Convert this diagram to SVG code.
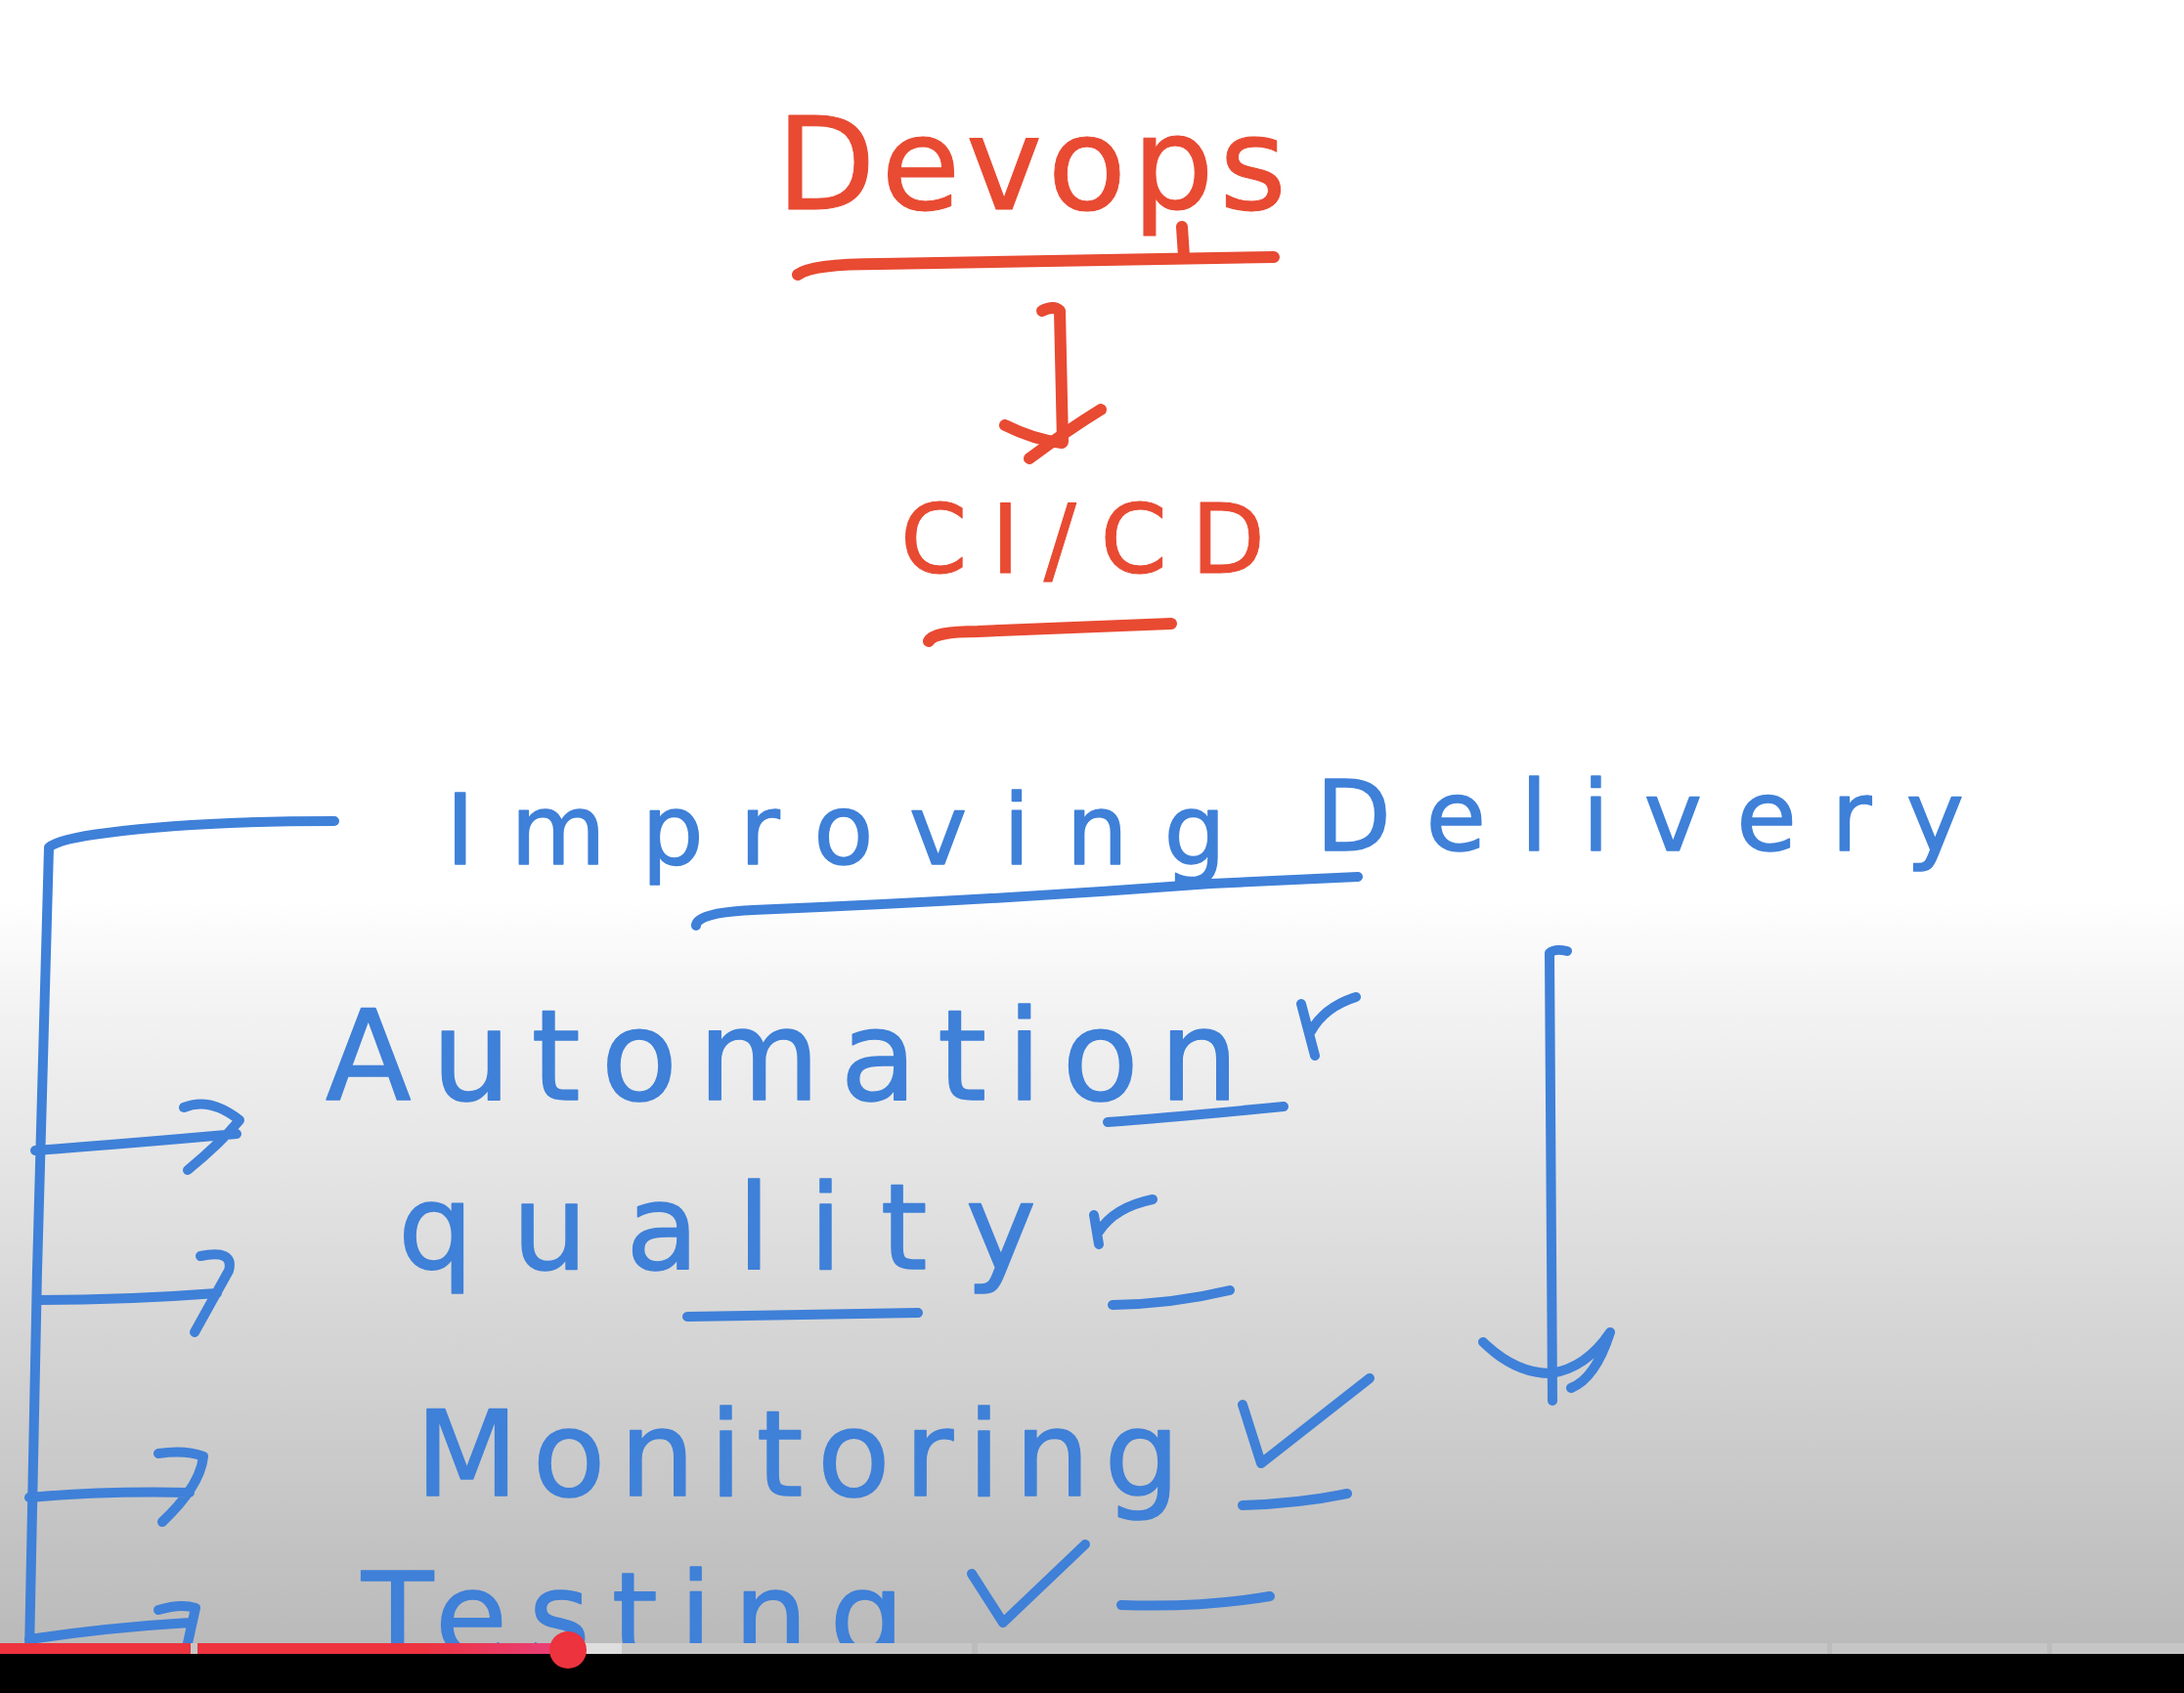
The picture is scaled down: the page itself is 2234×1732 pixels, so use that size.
<svg xmlns="http://www.w3.org/2000/svg" width="2234" height="1732" viewBox="0 0 2234 1732">
<defs>
<linearGradient id="bg" x1="0" y1="0" x2="0" y2="1732" gradientUnits="userSpaceOnUse">
<stop offset="0" stop-color="#ffffff"/>
<stop offset="0.53" stop-color="#ffffff"/>
<stop offset="0.6" stop-color="#f2f2f2"/>
<stop offset="0.78" stop-color="#d6d6d6"/>
<stop offset="0.97" stop-color="#bababa"/>
</linearGradient>
<linearGradient id="prog" x1="0" y1="0" x2="1" y2="0">
<stop offset="0" stop-color="#ec333e"/>
<stop offset="0.6" stop-color="#ec333e"/>
<stop offset="1" stop-color="#e8407c"/>
</linearGradient>
<style>
.red{fill:#e84a32;stroke:#e84a32;stroke-width:1;stroke-linejoin:round;font-family:"DejaVu Sans","Liberation Sans",sans-serif}
.blue{fill:#3f80d8;stroke:#3f80d8;stroke-width:1.5;stroke-linejoin:round;font-family:"DejaVu Sans","Liberation Sans",sans-serif}
.rl{fill:none;stroke:#e84a32;stroke-width:12;stroke-linecap:round;stroke-linejoin:round}
.bl{fill:none;stroke:#3f80d8;stroke-width:10;stroke-linecap:round;stroke-linejoin:round}
</style>
</defs>
<rect x="0" y="0" width="2234" height="1732" fill="url(#bg)"/>

<g id="devops">
<text class="red" x="794" y="214" font-size="132" textLength="522" lengthAdjust="spacing">Devops</text>
<path class="rl" d="M816,281 Q830,270 900,270 L1303,263 M1209,232 L1211,262"/>
</g>

<g id="cicd">
<text class="red" x="921" y="586" font-size="98" textLength="373" lengthAdjust="spacing">CI/CD</text>
<path class="rl" d="M950,656 Q955,646 1000,646 L1198,638"/>
</g>

<g id="improving-delivery">
<text class="blue" y="884" font-size="100"><tspan x="456" textLength="798" lengthAdjust="spacing">Improving</tspan><tspan x="1346" y="870" textLength="663" lengthAdjust="spacing">Delivery</tspan></text>
<path class="bl" d="M712,947 Q712,934 770,931 Q1000,922 1239,904 L1389,897"/>
</g>

<g id="automation">
<text class="blue" x="333" y="1125" font-size="128" textLength="934" lengthAdjust="spacing">Automation</text>
<path class="bl" d="M1133,1148 Q1200,1143 1313,1132"/>
<path class="bl" d="M1331,1027 L1345,1080 M1341,1055 Q1355,1030 1387,1020"/>
</g>

<g id="quality">
<text class="blue" x="407" y="1298" font-size="122" textLength="653" lengthAdjust="spacing">quality</text>
<path class="bl" d="M703,1347 L939,1343"/>
<path class="bl" d="M1119,1243 L1124,1273 M1124,1260 Q1140,1235 1179,1227"/>
<path class="bl" d="M1138,1335 Q1200,1334 1258,1320"/>
</g>

<g id="monitoring">
<text class="blue" x="425" y="1530" font-size="122" textLength="782" lengthAdjust="spacing">Monitoring</text>
<path class="bl" d="M1271,1437 L1290,1497 L1401,1410"/>
<path class="bl" d="M1271,1540 Q1330,1538 1378,1528"/>
</g>

<g id="testing">
<text class="blue" x="370" y="1694" font-size="120" textLength="555" lengthAdjust="spacing">Testing</text>
<path class="bl" d="M994,1610 L1026,1660 L1110,1580"/>
<path class="bl" d="M1147,1642 Q1230,1645 1299,1633"/>
</g>

<g id="connectors">
<path class="rl" d="M1066,318 Q1078,312 1084,318 L1087,452"/>
<path class="rl" d="M1028,435 Q1058,450 1086,453 M1126,419 Q1092,440 1053,469"/>
<path class="bl" d="M342,840 Q200,840 110,852 Q60,858 50,867 L38,1300 L30,1690"/>
<path class="bl" d="M36,1177 Q130,1170 242,1160 M188,1133 Q215,1122 245,1146 Q225,1170 192,1197"/>
<path class="bl" d="M40,1330 Q130,1330 222,1323 M205,1285 Q240,1278 234,1300 L199,1363"/>
<path class="bl" d="M30,1532 Q110,1525 194,1527 M162,1487 Q190,1483 208,1490 Q205,1520 166,1557"/>
<path class="bl" d="M30,1677 Q110,1665 194,1660 M162,1647 Q185,1640 200,1645 L190,1690"/>
<path class="bl" d="M1585,975 Q1590,970 1603,973 M1585,975 L1588,1433"/>
<path class="bl" d="M1517,1373 Q1550,1405 1586,1405 Q1622,1400 1647,1363 Q1632,1410 1607,1420"/>
</g>

<g id="player-bar">
<rect x="0" y="1692" width="2234" height="40" fill="#000000"/>
<rect x="0" y="1681" width="2234" height="11" fill="#c6c6c6"/>
<rect x="580" y="1681" width="56" height="11" fill="#dedede"/>
<rect x="994" y="1681" width="6" height="11" fill="#bcbcbc"/>
<rect x="1869" y="1681" width="5" height="11" fill="#bcbcbc"/>
<rect x="2094" y="1681" width="5" height="11" fill="#bcbcbc"/>
<rect x="0" y="1681" width="195" height="11" fill="#ec333e"/>
<rect x="202" y="1681" width="378" height="11" fill="url(#prog)"/>
<circle cx="581" cy="1688" r="19" fill="#ec333e"/>
</g>
</svg>
